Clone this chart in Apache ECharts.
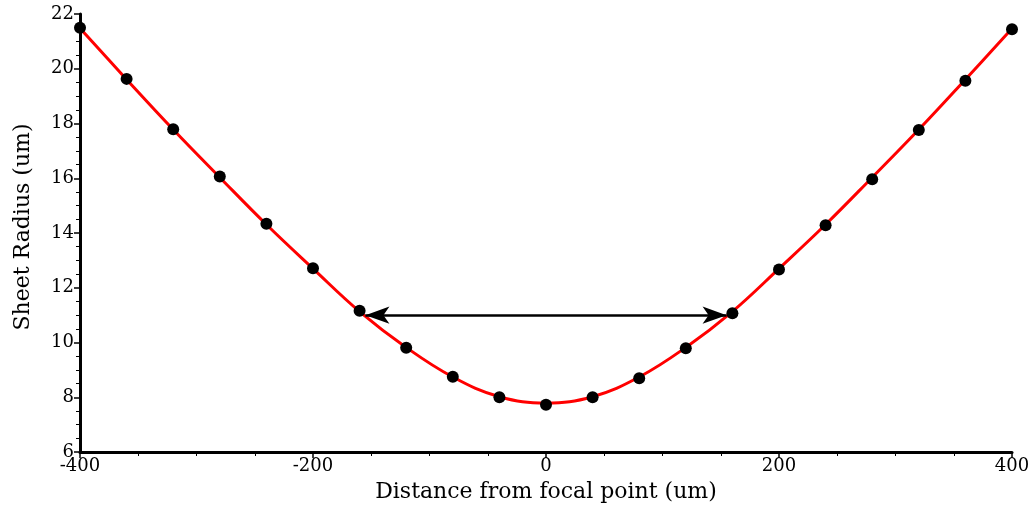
<!DOCTYPE html>
<html>
<head>
<meta charset="utf-8">
<script src="https://cdn.jsdelivr.net/npm/echarts@6/dist/echarts.min.js"></script>
<style>
  html, body { margin: 0; padding: 0; background: #ffffff; }
  #chart { width: 1031px; height: 507px; }
</style>
</head>
<body>
<div id="chart"></div>
<script>
// Measured sheet radius at each position along the beam (um)
const positions = [-400, -360, -320, -280, -240, -200, -160, -120, -80, -40, 0,
                   40, 80, 120, 160, 200, 240, 280, 320, 360, 400];
const measuredRadius = [21.50, 19.63, 17.79, 16.06, 14.34, 12.71, 11.16, 9.81, 8.75, 8.00, 7.73,
                        8.00, 8.69, 9.79, 11.07, 12.67, 14.28, 15.96, 17.76, 19.56, 21.44];

// Fitted curve through the measurements
const fitPositions = [-400, -360, -320, -280, -240, -200, -160, -120, -80, -40, 0,
                      40, 80, 120, 160, 200, 240, 280, 320, 360, 400];
const fitRadius = [21.48, 19.61, 17.78, 16.03, 14.31, 12.70, 11.13, 9.82, 8.74, 8.02, 7.79,
                   8.02, 8.74, 9.82, 11.13, 12.70, 14.31, 16.03, 17.78, 19.61, 21.47];

// Double-headed arrow marking the Rayleigh range
const rangeStart = [-155, 11.0];
const rangeEnd = [155, 11.0];

const serif = 'DejaVu Serif';

const chart = echarts.init(document.getElementById('chart'), null, { renderer: 'canvas' });

chart.setOption({
  backgroundColor: '#ffffff',
  animation: false,
  grid: { left: 80, right: 19, top: 14, bottom: 55, containLabel: false, outerBoundsMode: 'none' },
  xAxis: {
    type: 'value',
    min: -400, max: 400, interval: 200,
    name: 'Distance from focal point (um)',
    nameLocation: 'middle',
    nameGap: 29,
    nameTextStyle: { fontFamily: serif, fontSize: 22, color: '#000' },
    axisLine: { show: true, onZero: false, lineStyle: { color: '#000', width: 3 } },
    axisTick: { show: true, length: 6, lineStyle: { color: '#000', width: 1.5 } },
    minorTick: { show: true, splitNumber: 4, length: 4, lineStyle: { color: '#000', width: 1 } },
    splitLine: { show: false },
    axisLabel: { fontFamily: serif, fontSize: 18, color: '#000', margin: 5 }
  },
  yAxis: {
    type: 'value',
    min: 6, max: 22, interval: 2,
    name: 'Sheet Radius (um)',
    nameLocation: 'middle',
    nameGap: 46,
    nameTextStyle: { fontFamily: serif, fontSize: 22, color: '#000', padding: [0, 0, 0, 12] },
    axisLine: { show: true, onZero: false, lineStyle: { color: '#000', width: 3 } },
    axisTick: { show: true, length: 6, lineStyle: { color: '#000', width: 1.5 } },
    minorTick: { show: true, splitNumber: 4, length: 4, lineStyle: { color: '#000', width: 1 } },
    splitLine: { show: false },
    axisLabel: { fontFamily: serif, fontSize: 18, color: '#000', margin: 6 }
  },
  series: [
    {
      name: 'fit',
      type: 'line',
      data: fitPositions.map((x, i) => [x, fitRadius[i]]),
      smooth: 0.4,
      showSymbol: false,
      symbol: 'none',
      lineStyle: { color: '#ff0000', width: 3 },
      z: 2
    },
    {
      name: 'measured',
      type: 'scatter',
      data: positions.map((x, i) => [x, measuredRadius[i]]),
      symbol: 'circle',
      symbolSize: 12,
      itemStyle: { color: '#000', opacity: 1 },
      z: 4,
      markLine: {
        silent: true,
        symbol: ['arrow', 'arrow'],
        symbolSize: [13, 24],
        label: { show: false },
        lineStyle: { color: '#000', width: 2.6, type: 'solid', opacity: 1 },
        data: [[{ coord: rangeStart }, { coord: rangeEnd }]]
      }
    }
  ]
});
</script>
</body>
</html>
